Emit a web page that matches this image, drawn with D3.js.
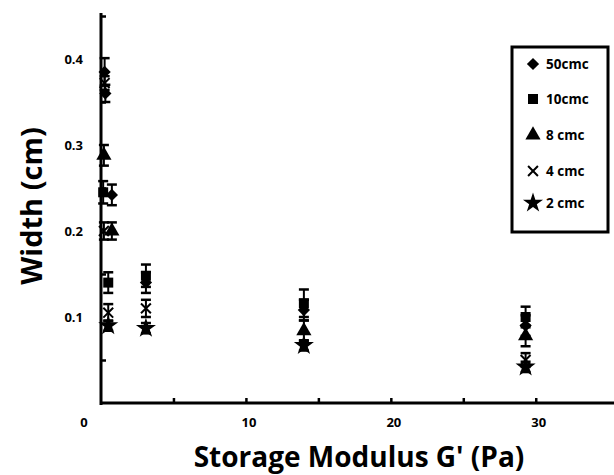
<!DOCTYPE html>
<html>
<head>
<meta charset="utf-8">
<script src="https://cdn.jsdelivr.net/npm/d3@7"></script>
<style>
  body { margin: 0; background: #fff; }
  text { font-family: "Open Sans", Lato, sans-serif; font-weight: bold; fill: #000; }
</style>
</head>
<body>
<svg id="chart" width="614" height="475"></svg>
<script>
// Series names (legend order)
const seriesNames = ["50cmc", "10cmc", "8 cmc", "4 cmc", "2 cmc"];

// 50cmc
const g50 = [0.25, 0.3, 0.75, 3.1, 14, 29.3];
const w50 = [0.385, 0.36, 0.242, 0.14, 0.108, 0.09];
const e50 = [0.016, 0.01, 0.012, 0.012, 0.012, 0.012];

// 10cmc
const g10 = [0.15, 0.5, 3.1, 14, 29.3];
const w10 = [0.245, 0.14, 0.148, 0.116, 0.1];
const e10 = [0.013, 0.012, 0.013, 0.016, 0.012];

// 8 cmc
const g8 = [0.2, 0.75, 14, 29.3];
const w8 = [0.288, 0.2, 0.084, 0.078];
const e8 = [0.012, 0.01, 0.012, 0.012];

// 4 cmc
const g4 = [0.25, 0.2, 0.5, 3.1, 29.3];
const w4 = [0.372, 0.2, 0.105, 0.11, 0.05];
const e4 = [0.008, 0.01, 0.01, 0.01, 0.008];

// 2 cmc
const g2 = [0.5, 3.1, 14, 29.3];
const w2 = [0.09, 0.087, 0.067, 0.042];
const e2 = [0.006, 0.006, 0.006, 0.006];

// Axis ticks and labels
const xTicks = [5, 10, 15, 20, 25, 30];
const xLabels = [0, 10, 20, 30];
const yTicks = [0.05, 0.15, 0.25, 0.35, 0.45];
const yLabels = [0.1, 0.2, 0.3, 0.4];

// diamond = square turned 45 degrees
const symbols = [d3.symbolSquare, d3.symbolSquare, d3.symbolTriangle, d3.symbolX, d3.symbolStar];
const symSizes = [75, 100, 100, 65, 125];
const symRot = [45, 0, 0, 0, 0];

const seriesData = [
  [g50, w50, e50], [g10, w10, e10], [g8, w8, e8], [g4, w4, e4], [g2, w2, e2]
].map((s, i) => s[0].map((g, j) => ({ series: i, g: g, w: s[1][j], e: s[2][j] })));

const svg = d3.select("#chart");

// Scales
const x = d3.scaleLinear().domain([0, 35.4]).range([101, 614]);
const y = d3.scaleLinear().domain([0, 0.45]).range([403, 16]);

function drawSymbol(sel, idx) {
  sel.attr("d", d => d3.symbol().type(symbols[idx(d)]).size(symSizes[idx(d)])())
    .attr("fill", d => idx(d) === 3 ? "none" : "#000")
    .attr("stroke", "#000")
    .attr("stroke-width", d => idx(d) === 3 ? 2 : 0);
}

// Error bars + markers
const pts = svg.append("g").selectAll("g")
  .data(seriesData.flat())
  .enter()
  .append("g")
  .attr("transform", d => `translate(${x(d.g)},0)`);

pts.append("line")
  .attr("y1", d => y(d.w - d.e)).attr("y2", d => y(d.w + d.e))
  .attr("stroke", "#000").attr("stroke-width", 2);
pts.selectAll(".cap")
  .data(d => [d.w - d.e, d.w + d.e])
  .enter()
  .append("line")
  .attr("x1", -5).attr("x2", 5)
  .attr("y1", v => y(v)).attr("y2", v => y(v))
  .attr("stroke", "#000").attr("stroke-width", 2.5);

pts.append("path")
  .attr("transform", d => `translate(0,${y(d.w)}) rotate(${symRot[d.series]})`)
  .call(drawSymbol, d => d.series);

// Axes
const xAxis = svg.append("g").attr("transform", "translate(0,403)");
xAxis.call(d3.axisBottom(x).tickValues(xTicks).tickSize(-5).tickFormat(""));
xAxis.select(".domain").attr("d", "M100,0H614").attr("stroke-width", 3);
xAxis.selectAll(".tick line").attr("stroke-width", 2.5);

const yAxis = svg.append("g").attr("transform", "translate(101,0)");
yAxis.call(d3.axisLeft(y).tickValues(yTicks).tickSize(-5).tickFormat(""));
yAxis.select(".domain").attr("d", "M0,13V405").attr("stroke-width", 3);
yAxis.selectAll(".tick line").attr("stroke-width", 2.5);

// Tick labels
svg.append("g").selectAll("text")
  .data(yLabels)
  .enter()
  .append("text")
  .attr("x", 83).attr("y", d => y(d)).attr("dy", "0.35em")
  .attr("text-anchor", "end").attr("font-size", 13)
  .text(d => d.toFixed(1));

svg.append("g").selectAll("text")
  .data(xLabels)
  .enter()
  .append("text")
  .attr("x", d => d === 0 ? 84 : x(d) + 3).attr("y", 427)
  .attr("text-anchor", "middle").attr("font-size", 13)
  .text(d => d);

// Axis titles
svg.append("text")
  .attr("x", 359).attr("y", 467)
  .attr("text-anchor", "middle").attr("font-size", 28)
  .text("Storage Modulus G' (Pa)");

svg.append("text")
  .attr("transform", "translate(42,206) rotate(-90)")
  .attr("text-anchor", "middle").attr("font-size", 29)
  .text("Width (cm)");

// Legend
const legend = svg.append("g");
legend.append("rect")
  .attr("x", 512).attr("y", 47).attr("width", 96).attr("height", 185)
  .attr("fill", "#fff").attr("stroke", "#000").attr("stroke-width", 3);

const rowY = [64, 99, 135, 171, 203];
const items = legend.selectAll(".item")
  .data(seriesNames)
  .enter()
  .append("g")
  .attr("transform", (d, i) => `translate(533,${rowY[i]})`);

items.append("path")
  .attr("transform", (d, i) => `rotate(${symRot[i]})`)
  .call(drawSymbol, d => seriesNames.indexOf(d));

items.append("text")
  .attr("x", 13).attr("dy", "0.35em").attr("font-size", 13.5)
  .text(d => d);
</script>
</body>
</html>
